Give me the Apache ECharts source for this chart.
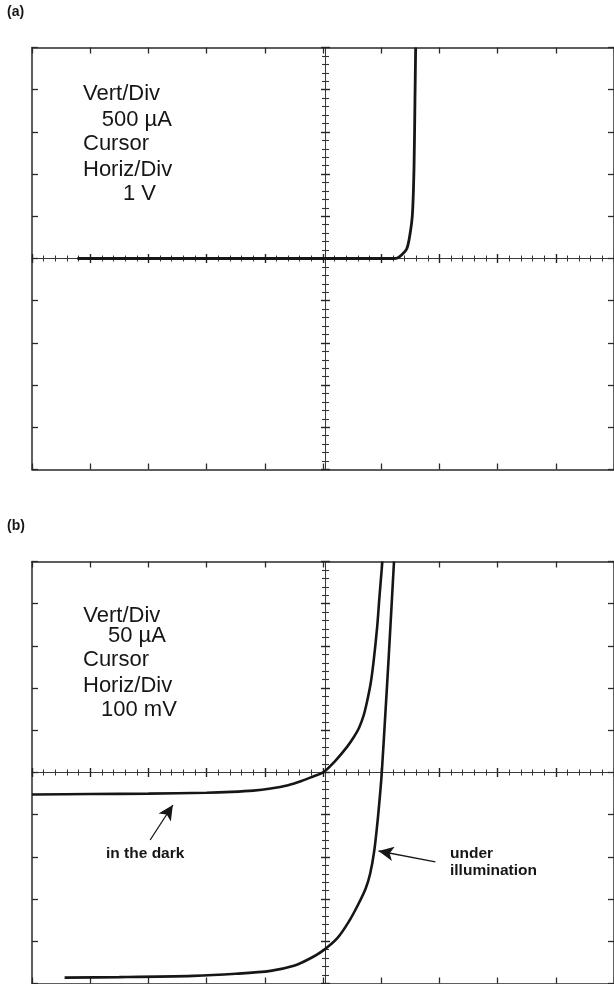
<!DOCTYPE html>
<html>
<head>
<meta charset="utf-8">
<script src="https://cdn.jsdelivr.net/npm/echarts@6/dist/echarts.min.js"></script>
<style>
  html, body { margin: 0; padding: 0; background: #fff; }
  #chart { width: 614px; height: 984px; }
</style>
</head>
<body>
<div id="chart"></div>
<script>
// (a) forward sweep, 1 V/div horizontal, 500 µA/div vertical
const traceA = [
  [-4.22, 0], [-2, 0], [0, 0], [1.0, 0], [1.21, 0], [1.28, 6], [1.354, 44],
  [1.44, 115], [1.496, 293], [1.537, 530], [1.564, 1082], [1.58, 1872], [1.592, 2500]
];

// (b) 100 mV/div horizontal, 50 µA/div vertical
const darkTrace = [
  [-500, -26], [-400, -25.5], [-300, -25], [-200, -24], [-157, -23], [-120, -21.5],
  [-90, -19], [-60, -15], [-37, -10], [-18, -5], [0, 0], [20, 13], [42, 31],
  [53, 42], [62, 53], [70, 68], [76, 85], [82, 106], [87, 132], [93, 172],
  [97, 208], [102, 250]
];
const lightTrace = [
  [-444, -243], [-350, -242.5], [-223, -241], [-150, -238.5], [-90, -235],
  [-50, -229], [-24, -221], [0, -211], [25, -196], [45, -176], [60, -157],
  [73, -138], [81, -120], [88, -93], [94, -56], [98.5, -22], [101, 0],
  [107, 68], [113, 138], [122, 250]
];

// arrow annotations in data units (mV, µA): [tail, tip]
const darkArrow = [[-297, -80], [-258, -38.5]];
const lightArrow = [[193, -106], [95.5, -93]];

// scope settings shown on screen
const readoutA = ['Vert/Div', '500 µA', 'Cursor', 'Horiz/Div', '1 V'];
const readoutB = ['Vert/Div', '50 µA', 'Cursor', 'Horiz/Div', '100 mV'];

const INK = '#161616';
const FONT = '"Liberation Sans", Arial, sans-serif';

const grids = [
  { left: 32, top: 47.5, width: 587, height: 422, show: false },
  { left: 32, top: 561.5, width: 587, height: 422, show: false }
];

// frame axes (ticks pointing inward) and centre graticule (cross ticks)
function xAxes(gi, min, max, step, half) {
  const base = {
    gridIndex: gi, type: 'value', min: min, max: max, interval: step,
    axisLabel: { show: false }, splitLine: { show: false }
  };
  const frameLine = { onZero: false, lineStyle: { color: '#2a2a2a', width: 1.5 } };
  const midLine = { onZero: false, lineStyle: { color: '#3a3a3a', width: 1 } };
  return [
    Object.assign({}, base, { position: 'bottom', axisLine: frameLine,
      axisTick: { inside: true, length: 6, lineStyle: { color: '#2a2a2a', width: 1.3 } } }),
    Object.assign({}, base, { position: 'top', axisLine: frameLine,
      axisTick: { inside: true, length: 6, lineStyle: { color: '#2a2a2a', width: 1.3 } } }),
    Object.assign({}, base, { position: 'bottom', offset: -half, axisLine: midLine,
      axisTick: { inside: true, length: 4.5, lineStyle: { color: '#222', width: 1.4 } },
      minorTick: { show: true, splitNumber: 5, length: 3, lineStyle: { color: '#333', width: 1 } } }),
    Object.assign({}, base, { position: 'bottom', offset: -half, axisLine: midLine,
      axisTick: { inside: false, length: 4.5, lineStyle: { color: '#222', width: 1.4 } },
      minorTick: { show: true, splitNumber: 5, length: 3, lineStyle: { color: '#333', width: 1 } } })
  ];
}
function yAxes(gi, min, max, step, half) {
  const base = {
    gridIndex: gi, type: 'value', min: min, max: max, interval: step,
    axisLabel: { show: false }, splitLine: { show: false }
  };
  const frameLine = { onZero: false, lineStyle: { color: '#2a2a2a', width: 1.5 } };
  const midLine = { onZero: false, lineStyle: { color: '#3a3a3a', width: 1 } };
  return [
    Object.assign({}, base, { position: 'left', axisLine: frameLine,
      axisTick: { inside: true, length: 6, lineStyle: { color: '#2a2a2a', width: 1.3 } } }),
    Object.assign({}, base, { position: 'right', axisLine: frameLine,
      axisTick: { inside: true, length: 6, lineStyle: { color: '#2a2a2a', width: 1.3 } } }),
    Object.assign({}, base, { position: 'left', offset: -half, axisLine: midLine,
      axisTick: { inside: true, length: 4.5, lineStyle: { color: '#222', width: 1.4 } },
      minorTick: { show: true, splitNumber: 5, length: 3.5, lineStyle: { color: '#333', width: 1.1 } } }),
    Object.assign({}, base, { position: 'left', offset: -half, axisLine: midLine,
      axisTick: { inside: false, length: 4.5, lineStyle: { color: '#222', width: 1.4 } },
      minorTick: { show: true, splitNumber: 5, length: 3.5, lineStyle: { color: '#333', width: 1.1 } } })
  ];
}

const xAxis = xAxes(0, -5, 5, 1, 211).concat(xAxes(1, -500, 500, 100, 211));
const yAxis = yAxes(0, -2500, 2500, 500, 293.5).concat(yAxes(1, -250, 250, 50, 293.5));

function arrowLine(pair) {
  return {
    silent: true,
    symbol: ['none', 'arrow'],
    symbolSize: [11, 15],
    lineStyle: { color: INK, width: 1.3, type: 'solid' },
    label: { show: false },
    emphasis: { disabled: true },
    data: [[{ coord: pair[0] }, { coord: pair[1] }]]
  };
}

const traceStyle = { color: INK, width: 2.6 };

const series = [
  { type: 'line', xAxisIndex: 0, yAxisIndex: 0, data: traceA, symbol: 'none',
    smooth: 0.3,
    lineStyle: Object.assign({}, traceStyle, { width: 2.8 }), z: 5 },
  { type: 'line', xAxisIndex: 4, yAxisIndex: 4, data: darkTrace, symbol: 'none',
    smooth: 0.3,
    lineStyle: traceStyle, z: 5, markLine: arrowLine(darkArrow) },
  { type: 'line', xAxisIndex: 4, yAxisIndex: 4, data: lightTrace, symbol: 'none',
    smooth: 0.3,
    lineStyle: traceStyle, z: 5, markLine: arrowLine(lightArrow) }
];

function readout(lines, xs, ys) {
  return lines.map((t, i) => ({
    type: 'text', left: xs[i], top: ys[i] - 12,
    style: { text: t, font: '22px ' + FONT, fill: INK }
  }));
}

const graphic = [
  { type: 'text', left: 7, top: 5, style: { text: '(a)', font: 'bold 14px ' + FONT, fill: INK } },
  { type: 'text', left: 7, top: 519.5, style: { text: '(b)', font: 'bold 14px ' + FONT, fill: INK } },
  { type: 'text', left: 106, top: 846, style: { text: 'in the dark', font: 'bold 15.5px ' + FONT, fill: INK } },
  { type: 'text', left: 450, top: 845.5, style: { text: 'under', font: 'bold 15.5px ' + FONT, fill: INK } },
  { type: 'text', left: 450, top: 863, style: { text: 'illumination', font: 'bold 15.5px ' + FONT, fill: INK } }
]
  .concat(readout(readoutA, [83, 101.7, 83, 83, 123], [94.5, 121, 145, 171, 195]))
  .concat(readout(readoutB, [83.3, 108, 83, 83, 101], [616.7, 636.7, 661, 686.7, 710.7]));

const chart = echarts.init(document.getElementById('chart'), null, { renderer: 'canvas' });
chart.setOption({
  animation: false,
  backgroundColor: '#fff',
  grid: grids,
  xAxis: xAxis,
  yAxis: yAxis,
  series: series,
  graphic: graphic
});
</script>
</body>
</html>
